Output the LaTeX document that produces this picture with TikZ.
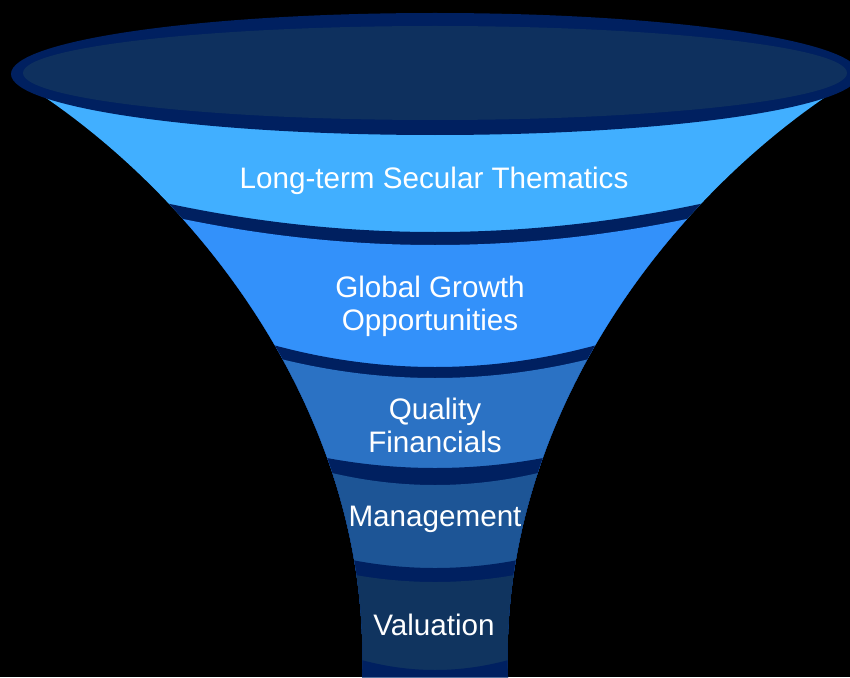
\documentclass[tikz,border=0pt]{standalone}
\usepackage{fontspec}
\setmainfont{Liberation Sans}
\usepackage{tikz}
\usetikzlibrary{calc,positioning}

\definecolor{rim}{HTML}{002060}
\definecolor{mouth}{HTML}{0E305E}
\definecolor{bandA}{HTML}{41AFFF}
\definecolor{bandB}{HTML}{3391FA}
\definecolor{bandC}{HTML}{2B72C4}
\definecolor{bandD}{HTML}{1D5596}
\definecolor{bandE}{HTML}{10345F}

% region below a sagging curve: colour, centre y, half width, edge y
\newcommand{\sagfill}[4]{%
  \fill[#1] (0,#4) -- ({435-#3},#4)
    .. controls ({435-#3/3},{#4+4/3*(#2-#4)}) and ({435+#3/3},{#4+4/3*(#2-#4)}) .. ({435+#3},#4)
    -- (850,#4) -- (850,700) -- (0,700) -- cycle;}

\tikzset{stage/.style={text=white, align=center, font=\fontsize{25.3}{28.2}\selectfont}}

\begin{document}
\begin{tikzpicture}[x=0.03cm, y=-0.03cm]
           \fill[black] (0,0) rectangle (850,677);
           \useasboundingbox (0,0) rectangle (850,677);
           \begin{scope}
            \clip (12,76) .. controls (200,190) and (372,420) .. (362,677)
                  -- (508,677) .. controls (498,420) and (670,190) .. (858,76) -- cycle;
            \fill[bandA] (0,60) rectangle (850,677);
            \sagfill{rim}{232}{285}{199.6}
            \sagfill{bandB}{245}{272}{214.7}
            \sagfill{rim}{367}{182}{339.2}
            \sagfill{bandC}{378}{170}{354.9}
            \sagfill{rim}{468}{128}{454}
            \sagfill{bandD}{485}{123}{467.9}
            \sagfill{rim}{568}{103}{555.7}
            \sagfill{bandE}{582}{100}{571}
            \sagfill{rim}{670}{93}{654}
           \end{scope}
           \fill[rim] (435,74) ellipse [x radius=424, y radius=61];
           \fill[mouth] (435,73) ellipse [x radius=412, y radius=47];
           \node[stage] (thematics) at (434,181) {Long-term Secular Thematics};
           \node[stage] (growth)    at (430,306) {Global Growth\\Opportunities};
           \node[stage] (quality)   at (435,425) {Quality\\Financials};
           \node[stage] (mgmt)      at (435,519) {Management};
           \node[stage] (valuation) at (434,625) {Valuation};
        \end{tikzpicture}
\end{document}
